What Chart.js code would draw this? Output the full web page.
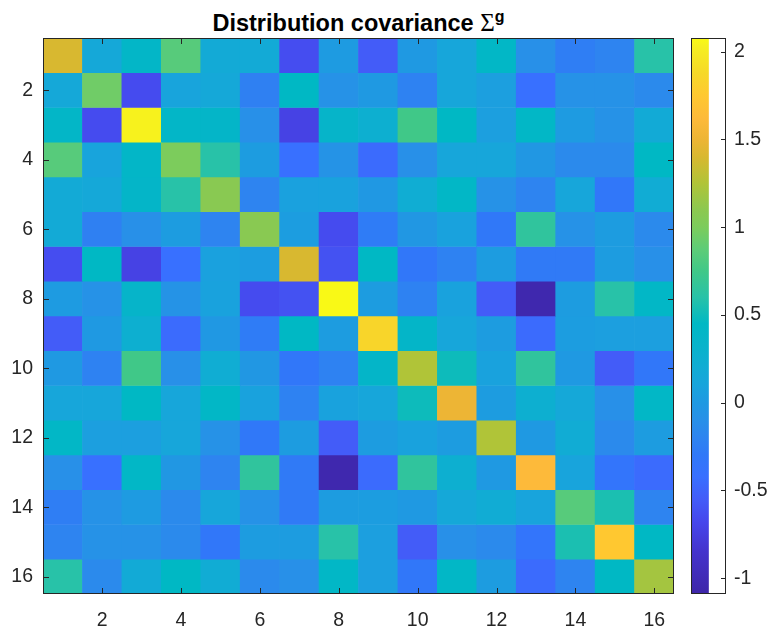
<!DOCTYPE html>
<html>
<head>
<meta charset="utf-8">
<script src="https://cdn.jsdelivr.net/npm/chart.js@4.4.1/dist/chart.umd.min.js"></script>
<style>
  html, body { margin:0; padding:0; background:#fff; }
  body { width:768px; height:628px; position:relative; overflow:hidden; }
  #main { position:absolute; left:0; top:0; }
  #cbar { position:absolute; left:680px; top:0; }
  #title { position:absolute; left:43px; width:631px; top:9px; text-align:center;
           font-family:"Liberation Sans", Arial, sans-serif; font-weight:bold; font-size:23.5px;
           line-height:28px; color:#000; white-space:nowrap; }
  #title .sig { font-family:"Liberation Serif", serif; font-weight:normal; font-size:25px; }
  #title sup { font-size:16px; vertical-align:0; position:relative; top:-9px; }
</style>
</head>
<body>
<div id="title">Distribution covariance <span class="sig">Σ</span><sup>g</sup></div>
<canvas id="main" width="768" height="628"></canvas>
<canvas id="cbar" width="88" height="628"></canvas>
<script>
// ---- data ----
const rowIdx = [1,2,3,4,5,6,7,8,9,10,11,12,13,14,15,16];
const colIdx = [1,2,3,4,5,6,7,8,9,10,11,12,13,14,15,16];
const axisTicks = [2,4,6,8,10,12,14,16];
const cbarTicks = [-1,-0.5,0,0.5,1,1.5,2];
const cmin = -1.09, cmax = 2.078;
const sigma = [
  [1.4, 0.15, 0.4, 0.85, 0.17, 0.17, -0.64, 0.02, -0.55, 0.0, 0.12, 0.42, -0.1, -0.25, -0.2, 0.6],
  [0.15, 0.95, -0.65, 0.1, 0.15, -0.23, 0.45, -0.08, 0.0, -0.22, 0.12, 0.05, -0.42, -0.08, -0.08, -0.15],
  [0.4, -0.65, 2.04, 0.4, 0.38, -0.1, -0.72, 0.35, 0.25, 0.75, 0.45, 0.05, 0.42, 0.02, -0.08, 0.18],
  [0.85, 0.1, 0.4, 1.0, 0.6, 0.03, -0.42, -0.07, -0.45, -0.1, 0.12, 0.12, -0.02, -0.15, -0.15, 0.45],
  [0.17, 0.15, 0.38, 0.6, 1.08, -0.2, 0.07, 0.08, -0.01, 0.22, 0.42, -0.08, -0.2, 0.12, -0.32, 0.2],
  [0.17, -0.23, -0.1, 0.03, -0.2, 1.08, 0.04, -0.65, -0.27, -0.02, 0.08, -0.3, 0.65, -0.08, 0.03, -0.15],
  [-0.64, 0.45, -0.72, -0.42, 0.07, 0.04, 1.4, -0.61, 0.45, -0.32, -0.22, 0.03, -0.28, -0.28, 0.03, -0.1],
  [0.02, -0.08, 0.35, -0.07, 0.08, -0.65, -0.61, 2.07, 0.03, -0.22, 0.08, -0.55, -1.05, 0.03, 0.6, 0.42],
  [-0.55, 0.0, 0.25, -0.45, -0.01, -0.27, 0.45, 0.03, 1.85, 0.38, 0.12, 0.03, -0.45, 0.04, 0.05, 0.05],
  [0.0, -0.22, 0.75, -0.1, 0.22, -0.02, -0.32, -0.22, 0.38, 1.25, 0.5, 0.08, 0.65, 0.0, -0.55, -0.32],
  [0.12, 0.12, 0.45, 0.12, 0.42, 0.08, -0.22, 0.08, 0.12, 0.5, 1.5, 0.03, 0.25, 0.15, -0.1, 0.42],
  [0.42, 0.05, 0.05, 0.12, -0.08, -0.3, 0.03, -0.55, 0.03, 0.08, 0.03, 1.25, 0.0, 0.2, -0.15, 0.03],
  [-0.1, -0.42, 0.42, -0.02, -0.2, 0.65, -0.28, -1.05, -0.45, 0.65, 0.25, 0.0, 1.62, 0.1, -0.35, -0.45],
  [-0.25, -0.08, 0.02, -0.15, 0.12, -0.08, -0.28, 0.03, 0.04, 0.0, 0.15, 0.2, 0.1, 0.85, 0.55, -0.2],
  [-0.2, -0.08, -0.08, -0.15, -0.32, 0.03, 0.03, 0.6, 0.05, -0.55, -0.1, -0.15, -0.35, 0.55, 1.75, 0.45],
  [0.6, -0.15, 0.18, 0.45, 0.2, -0.15, -0.1, 0.42, 0.05, -0.32, 0.42, 0.03, -0.45, -0.2, 0.45, 1.2]
];

// ---- parula-like colormap ----
const cmapStops = [
  [-1.09,'#3E26A8'],[-0.85,'#4433CC'],[-0.68,'#4646EC'],[-0.55,'#435CF8'],[-0.42,'#3870FF'],
  [-0.30,'#3078F8'],[-0.20,'#2E84F0'],[-0.10,'#2890E8'],[0.00,'#1F99E2'],[0.10,'#18A4DC'],
  [0.20,'#11ACD4'],[0.32,'#08B3CB'],[0.45,'#00B8C4'],[0.60,'#28C2A8'],[0.75,'#40C888'],
  [0.87,'#5CCC78'],[1.00,'#7CCC5C'],[1.10,'#8CC850'],[1.25,'#B0C438'],[1.40,'#D8B830'],
  [1.50,'#EDB535'],[1.62,'#FDBA3A'],[1.75,'#FFC830'],[1.88,'#F6D928'],[2.03,'#F6F020'],[2.078,'#F9FB14']
];
function hexRgb(h){ return [parseInt(h.substr(1,2),16),parseInt(h.substr(3,2),16),parseInt(h.substr(5,2),16)]; }
function colorOf(v){
  if (v <= cmapStops[0][0]) return cmapStops[0][1];
  for (let k=1;k<cmapStops.length;k++){
    if (v <= cmapStops[k][0]){
      const [v0,c0]=cmapStops[k-1],[v1,c1]=cmapStops[k];
      const t=(v-v0)/(v1-v0), a=hexRgb(c0), b=hexRgb(c1);
      return 'rgb('+a.map((x,i)=>Math.round(x+(b[i]-x)*t)).join(',')+')';
    }
  }
  return cmapStops[cmapStops.length-1][1];
}

Chart.defaults.font.family = '"Liberation Sans", Arial, sans-serif';
Chart.defaults.font.size = 19.5;
Chart.defaults.color = '#262626';

const axisColor = '#262626';

const frameMain = {
  id:'frameMain',
  afterDatasetsDraw(chart){
    const {ctx, chartArea:a, scales} = chart;
    ctx.save();
    ctx.strokeStyle = axisColor; ctx.lineWidth = 1;
    const L=6;
    axisTicks.forEach(t=>{
      const x = Math.round(scales.x.getPixelForValue(t))+0.5;
      ctx.beginPath(); ctx.moveTo(x,a.bottom); ctx.lineTo(x,a.bottom-L);
      ctx.moveTo(x,a.top); ctx.lineTo(x,a.top+L); ctx.stroke();
      const y = Math.round(scales.y.getPixelForValue(t))+0.5;
      ctx.beginPath(); ctx.moveTo(a.left,y); ctx.lineTo(a.left+L,y);
      ctx.moveTo(a.right,y); ctx.lineTo(a.right-L,y); ctx.stroke();
    });
    ctx.strokeRect(a.left+0.5, a.top+0.5, a.right-a.left-1, a.bottom-a.top-1);
    ctx.restore();
  }
};

const datasets = rowIdx.map((r,i)=>({
  label:'row '+r,
  data: colIdx.map(c=>({x:c, y:[r-0.5, r+0.5]})),
  backgroundColor: sigma[i].map(colorOf),
  borderWidth:0,
  grouped:false,
  barPercentage:1,
  categoryPercentage:1
}));

new Chart(document.getElementById('main'), {
  type:'bar',
  data:{ datasets },
  options:{
    responsive:false, animation:false, devicePixelRatio:1,
    layout:{ padding:{ left:0, top:38, right:94, bottom:0 } },
    plugins:{ legend:{display:false}, tooltip:{enabled:false}, title:{display:false} },
    scales:{
      x:{ type:'linear', min:0.5, max:16.5, offset:false,
          afterBuildTicks(s){ s.ticks = axisTicks.map(v=>({value:v})); },
          afterFit(s){ s.height = 34; },
          grid:{ display:false, drawTicks:false },
          border:{ display:false },
          ticks:{ padding:15, color:axisColor, maxRotation:0, autoSkip:false, callback:v=>String(v) } },
      y:{ type:'linear', reverse:true, min:0.5, max:16.5,
          afterBuildTicks(s){ s.ticks = axisTicks.map(v=>({value:v})); },
          afterFit(s){ s.width = 43; },
          grid:{ display:false, drawTicks:false },
          border:{ display:false },
          ticks:{ padding:10, color:axisColor, autoSkip:false, callback:v=>String(v) } }
    }
  },
  plugins:[frameMain]
});

// ---- colorbar ----
const frameBar = {
  id:'frameBar',
  afterDatasetsDraw(chart){
    const {ctx, chartArea:a, scales} = chart;
    ctx.save();
    ctx.strokeStyle = axisColor; ctx.lineWidth = 1;
    cbarTicks.forEach(t=>{
      const y = Math.round(scales.y.getPixelForValue(t))+0.5;
      ctx.beginPath(); ctx.moveTo(a.right,y); ctx.lineTo(a.right-5,y); ctx.stroke();
    });
    ctx.strokeRect(a.left+0.5, a.top+0.5, a.right-a.left-1, a.bottom-a.top-1);
    ctx.restore();
  }
};

new Chart(document.getElementById('cbar'), {
  type:'bar',
  data:{ labels:['cb'], datasets:[{
    data:[[cmin,cmax]],
    borderWidth:0, barPercentage:1, categoryPercentage:1,
    backgroundColor(ctx){
      const chart = ctx.chart; if (!chart.chartArea) return '#888';
      const y = chart.scales.y;
      const g = chart.ctx.createLinearGradient(0, y.getPixelForValue(cmin), 0, y.getPixelForValue(cmax));
      cmapStops.forEach(([v,c])=>g.addColorStop((v-cmin)/(cmax-cmin), c));
      return g;
    }
  }]},
  options:{
    responsive:false, animation:false, devicePixelRatio:1,
    layout:{ padding:{ left:11, top:38, right:0, bottom:34 } },
    plugins:{ legend:{display:false}, tooltip:{enabled:false} },
    scales:{
      x:{ display:false, offset:false },
      y:{ type:'linear', position:'right', min:cmin, max:cmax,
          afterBuildTicks(s){ s.ticks = cbarTicks.map(v=>({value:v})); },
          afterFit(s){ s.width = 42; },
          grid:{ display:false, drawTicks:false },
          border:{ display:false },
          ticks:{ padding:8, color:axisColor, autoSkip:false, callback:v=>String(v) } }
    }
  },
  plugins:[frameBar]
});
</script>
</body>
</html>
